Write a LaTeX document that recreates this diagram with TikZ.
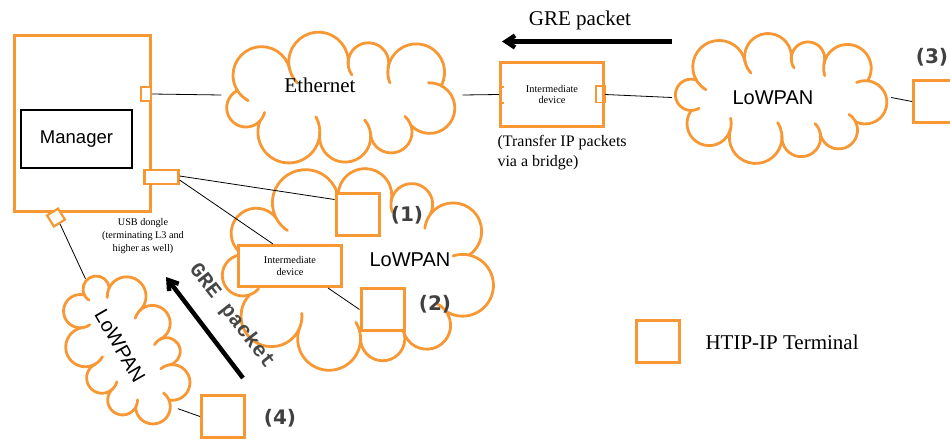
\documentclass[tikz,border=0pt]{standalone}
\usepackage{fontspec}
\setmainfont{Liberation Serif}
\newfontfamily\sansA{Liberation Sans}
\newfontfamily\numfont{DejaVu Sans}
\newfontfamily\monoA{Liberation Mono}
\usetikzlibrary{shapes.geometric,arrows.meta}
\definecolor{orng}{RGB}{247,152,52}
\definecolor{numgray}{RGB}{64,64,64}

% Parametric angle of junction #1 on an ellipse (#2,#3), #4 puffs,
% #5 phase, #6 jitter; spacing is a blend of polar and parametric steps.
\newcommand\cldjunction[6]{%
  \pgfmathsetmacro\cldP{#5+360*(#1)/#4+#6*sin(1080*(#1)/#4+25)}%
  \pgfmathsetmacro\cldQ{atan2(#2*sin(\cldP),#3*cos(\cldP))}%
  \pgfmathsetmacro\cldQ{\cldQ+360*round((\cldP-\cldQ)/360)}%
  \pgfmathsetmacro\cldT{(\cldP+\cldQ)/2}}

% Cloud outline made of circular puffs whose junctions lie on an ellipse.
% #1 centre, #2/#3 half axes of the junction ellipse, #4 puffs, #5 tilt,
% #6 phase of the first junction, #7 jitter, #8 puff sweep, #9 inward tip
\newcommand\puffcloud[9]{%
  \begin{scope}[shift={#1}, rotate=#5]
    \foreach \k in {1,...,#4}{%
      \cldjunction{\k-1}{#2}{#3}{#4}{#6}{#7}\let\cldA\cldT
      \cldjunction{\k}{#2}{#3}{#4}{#6}{#7}\let\cldB\cldT
      \pgfmathsetmacro\cldxA{#2*cos(\cldA)}%
      \pgfmathsetmacro\cldyA{#3*sin(\cldA)}%
      \pgfmathsetmacro\cldxB{#2*cos(\cldB)}%
      \pgfmathsetmacro\cldyB{#3*sin(\cldB)}%
      \pgfmathsetmacro\cldL{veclen(\cldxB-\cldxA,\cldyB-\cldyA)}%
      \pgfmathsetmacro\cldR{\cldL/(2*sin(#8/2))}%
      \pgfmathsetmacro\cldO{\cldR*cos(#8/2)/\cldL}%
      \pgfmathsetmacro\cldcx{(\cldxA+\cldxB)/2-\cldO*(\cldyB-\cldyA)}%
      \pgfmathsetmacro\cldcy{(\cldyA+\cldyB)/2+\cldO*(\cldxB-\cldxA)}%
      \pgfmathsetmacro\cldS{atan2(\cldyA-\cldcy,\cldxA-\cldcx)}%
      \draw[cloudline] (\cldxA,\cldyA) arc[start angle=\cldS, delta angle=#8+#9, radius=\cldR];%
    }%
  \end{scope}}

\begin{document}
\begin{tikzpicture}[x=1pt,y=1pt,
  port/.style={draw=orng, line width=2.2pt, fill=white, inner sep=0pt},
  termbox/.style={draw=orng, line width=3pt, fill=white, minimum width=43pt, minimum height=42pt, inner sep=0pt},
  devbox/.style={draw=orng, line width=3pt, fill=white, inner sep=0pt, align=center,
    font=\fontsize{10.3}{11.7}\selectfont},
  cloudanchor/.style={ellipse, draw=none, inner sep=0pt},
  cloudline/.style={draw=orng, line width=2.8pt, line cap=round},
  wire/.style={draw=black, line width=0.8pt},
  portline/.style={draw=orng, line width=2pt},
  grearrow/.style={draw=black, line width=4.5pt, -{Straight Barb[length=9pt,width=12pt]}},
  num/.style={font=\numfont\bfseries\fontsize{20}{24}\selectfont, text=numgray},
  lowlabel/.style={font=\sansA\fontsize{20}{24}\selectfont}
]
\useasboundingbox (0,0) rectangle (950,-439);
\clip (0,0) rectangle (950,-439);

% ---------- clouds ----------
\node[cloudanchor, minimum width=241pt, minimum height=136pt] (eth) at (342,-95) {};
\puffcloud{(342,-99)}{108}{34}{9}{0}{10}{5}{200}{30}
\node[font=\fontsize{21}{25}\selectfont] (ethlabel) at (320,-85) {Ethernet};

\node[cloudanchor, minimum width=219pt, minimum height=121pt] (lowR) at (781.5,-97.5) {};
\puffcloud{(781.5,-97.5)}{96}{38}{10}{0}{14}{5}{200}{30}
\node[lowlabel] (lowRlabel) at (773,-98) {LoWPAN};

\node[cloudanchor, minimum width=270pt, minimum height=200pt] (lowM) at (357,-268) {};
\puffcloud{(356,-268)}{115}{70}{11}{0}{6}{5}{200}{30}
\node[lowlabel] (lowMlabel) at (410,-260) {LoWPAN};

\node[cloudanchor, rotate=-60, minimum width=162pt, minimum height=102pt] (lowL) at (126,-349) {};
\puffcloud{(126,-349)}{70}{34}{10}{-60}{12}{4}{200}{30}
\node[lowlabel, rotate=-60] (lowLlabel) at (120,-346) {LoWPAN};

% ---------- manager ----------
\node[draw=orng, line width=3pt, minimum width=136pt, minimum height=176pt, inner sep=0pt] (mgr) at (82,-123) {};
\node[draw=black, line width=2.5pt, minimum width=111pt, minimum height=58pt, inner sep=0pt,
  font=\sansA\fontsize{18.5}{22}\selectfont] (mgrcore) at (76.5,-139) {Manager};
\node[port, minimum width=10pt, minimum height=14pt] (ethport) at (146,-94) {};
\node[port, minimum width=34pt, minimum height=14pt] (usb) at (161.5,-177) {};
\node[port, minimum width=13pt, minimum height=13pt, rotate=32] (diam) at (56,-217.5) {};
\node[align=center, font=\fontsize{10.2}{12.8}\selectfont] (usbtext) at (143,-236)
  {USB dongle\\(terminating L3 and\\higher as well)};

% ---------- intermediate devices ----------
\node[devbox, minimum width=103pt, minimum height=64pt] (idevA) at (552,-94.5) {Intermediate\\device};
\draw[portline] ([yshift=8pt]idevA.west) -- ++(5,0);
\draw[portline] ([yshift=-8pt]idevA.west) -- ++(5,0);
\draw[portline, line width=1.6pt] ([shift={(-9,8.5)}]idevA.east) rectangle ++(9,-16.5);
\node[anchor=west, align=left, font=\fontsize{16}{20}\selectfont] (transfer) at (494,-153)
  {(Transfer IP packets\\via a bridge)};

\node[devbox, minimum width=103pt, minimum height=41pt] (idevB) at (290,-266) {Intermediate\\device};

% ---------- terminals ----------
\node[termbox] (t1) at (357.5,-214.5) {};
\node[termbox] (t2) at (382.5,-309.5) {};
\node[termbox] (t3) at (935,-101.5) {};
\node[termbox] (t4) at (223,-416.5) {};
\node[num] (n1) at (407,-215) {(1)};
\node[num] (n2) at (435,-304) {(2)};
\node[num] (n3) at (932,-57) {(3)};
\node[num] (n4) at (280,-418) {(4)};

% ---------- legend ----------
\node[termbox] (legbox) at (658,-341.5) {};
\node[anchor=west, font=\fontsize{21}{25}\selectfont] (legtext) at (702,-342) {HTIP-IP Terminal};

% ---------- connections ----------
\draw[wire] (ethport.east) -- (eth.west);
\draw[wire] (eth.east) -- (idevA.west);
\draw[wire] (idevA.east) -- (lowR.west);
\draw[wire] (lowR.east) -- (t3.west);
\draw[wire] ([yshift=1pt]usb.east) -- ([yshift=15pt]t1.west);
\draw[wire] ([yshift=-3pt]usb.east) -- ([xshift=-17pt]idevB.north);
\draw[wire] ([xshift=38pt]idevB.south) -- (t2.west);
\draw[wire] (diam.south) -- (lowL.west);
\draw[wire] (lowL.11) -- (t4.west);

% ---------- GRE packets ----------
\coordinate (greAtail) at (672,-41.5);
\coordinate (greAhead) at (502,-41.5);
\draw[grearrow] (greAtail) -- (greAhead);
\node[font=\fontsize{21}{25}\selectfont] (greAtext) at (580,-20) {GRE packet};

\coordinate (greBtail) at (243,-378);
\coordinate (greBhead) at (166,-277);
\draw[grearrow] (greBtail) -- (greBhead);
\node[rotate=-52, text=black!72, font=\monoA\bfseries\fontsize{21}{25}\selectfont] (greBtext) at (232,-316) {GRE packet};
\end{tikzpicture}
\end{document}
